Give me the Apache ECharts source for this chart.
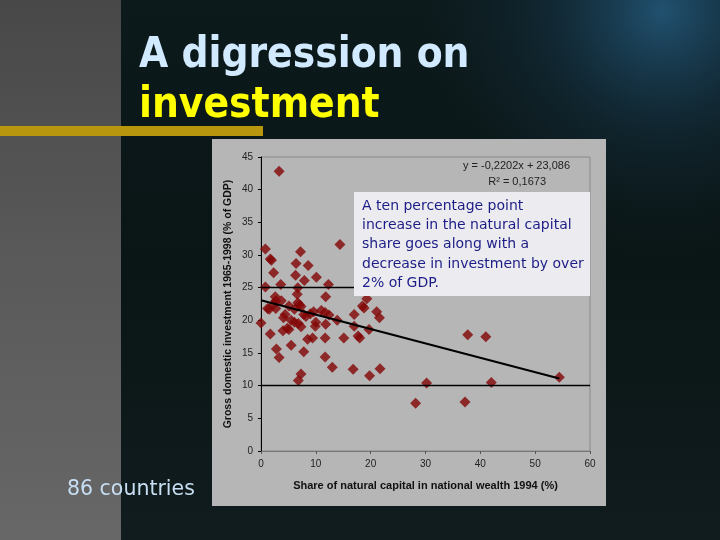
<!DOCTYPE html>
<html><head><meta charset="utf-8">
<script src="https://cdn.jsdelivr.net/npm/echarts@6/dist/echarts.min.js"></script>
<style>html,body{margin:0;padding:0;background:#0b1515;}#c{width:720px;height:540px;}</style>
</head><body><div id="c"></div>
<script>
// Share of natural capital in national wealth 1994 (%)
const naturalShare = [3.3,0.8,1.7,1.9,2.3,0.8,3.6,7.2,6.4,8.6,6.3,7.9,6.7,10.1,14.4,12.3,6.6,11.8,2.6,2.7,3.7,1.2,1.5,2.7,5.1,6.7,7.0,7.3,6.1,7.8,8.2,4.4,4.1,0.0,1.7,4.0,5.1,5.5,6.1,6.8,7.3,5.5,2.8,3.3,7.8,7.3,6.8,8.5,9.4,9.6,10.0,9.9,11.0,11.7,12.4,11.8,11.7,11.7,13.0,13.9,15.1,17.0,17.0,17.7,18.0,16.8,18.5,18.8,19.3,19.7,19.8,21.1,21.6,21.7,28.2,30.2,37.7,41.0,37.2,42.0,54.4,4.8,9.0,2.3];
// Gross domestic investment 1965-1998 (% of GDP)
const investment = [42.8,30.9,29.4,29.2,27.3,25.1,25.5,30.5,28.7,28.4,26.9,26.1,25.0,26.6,31.6,25.5,24.0,23.6,23.6,23.0,23.0,21.8,21.7,21.8,22.2,22.7,22.4,22.1,21.7,20.9,20.6,20.9,20.4,19.6,17.9,18.4,18.6,20.0,19.7,19.5,19.0,16.2,15.6,14.3,15.2,11.8,10.8,17.1,17.3,21.3,19.7,19.1,21.5,21.2,20.8,19.4,17.3,14.4,12.8,20.0,17.3,20.9,19.1,17.6,17.3,12.5,22.2,21.9,23.3,18.6,11.5,21.3,20.4,12.6,7.3,10.4,17.8,17.5,7.5,10.5,11.3,18.8,21.0,22.5];
// Linear trend end points
const trendX = [0, 54.4];
const trendY = [23.086, 11.11];
const refLines = [25, 10];
const titleLine1 = "A digression on";
const titleLine2 = "investment";
const noteLines = ["A ten percentage point","increase in the natural capital","share goes along with a","decrease in investment by over","2% of GDP."];
const equation = "y = -0,2202x + 23,086";
const rsq = "R² = 0,1673";

const chart = echarts.init(document.getElementById('c'));
const pts = naturalShare.map((x,i)=>[x, investment[i]]);
const noteEls = noteLines.map((t,i)=>({type:'text', z:101, left:362, top:199+i*19.3,
  style:{text:t, fill:'#1c1c86', font:'14px "DejaVu Sans"'}}));
chart.setOption({
  animation:false,
  graphic:[
    {type:'rect', z:-100, shape:{x:0,y:0,width:720,height:540},
      style:{fill:new echarts.graphic.LinearGradient(0,0,0,1,[{offset:0,color:'#0c1a1c'},{offset:0.5,color:'#0a1515'},{offset:1,color:'#101c1e'}])}},
    {type:'rect', z:-99.5, shape:{x:0,y:0,width:720,height:540},
      style:{fill:new echarts.graphic.RadialGradient(0.92,0.02,0.45,[{offset:0,color:'rgba(40,100,140,0.75)'},{offset:0.5,color:'rgba(25,60,85,0.35)'},{offset:1,color:'rgba(20,40,50,0)'}])}},
    {type:'rect', z:-99, shape:{x:0,y:0,width:121,height:540},
      style:{fill:new echarts.graphic.LinearGradient(0,0,0,1,[{offset:0,color:'#484849'},{offset:0.5,color:'#5a5a5b'},{offset:1,color:'#676767'}])}},
    {type:'rect', z:-98, shape:{x:0,y:126,width:263,height:10}, style:{fill:'#b8960e'}},
    {type:'text', z:-97, left:139, top:35, style:{text:titleLine1, fill:'#d2eaff', font:'bold 42px "DejaVu Sans Condensed"'}},
    {type:'text', z:-97, left:139, top:85, style:{text:titleLine2, fill:'#ffff00', font:'bold 42px "DejaVu Sans Condensed"'}},
    {type:'text', z:-97, left:67, top:479, style:{text:'86 countries', fill:'#c8def2', font:'20.5px "DejaVu Sans"'}},
    {type:'rect', z:-96, shape:{x:212,y:139,width:394,height:367}, style:{fill:'#b6b6b6'}},
    {type:'text', z:10, right:150, top:160, style:{text:equation, fill:'#222', font:'11px "Liberation Sans"'}},
    {type:'text', z:10, right:174, top:176, style:{text:rsq, fill:'#222', font:'11px "Liberation Sans"'}},
    {type:'rect', z:100, shape:{x:354,y:192,width:236,height:104}, style:{fill:'#ececf0'}},
    ...noteEls
  ],
  grid:{left:261, right:130, top:157, bottom:89, show:true, borderColor:'#888', borderWidth:1, backgroundColor:'transparent'},
  xAxis:{type:'value', min:0, max:60, interval:10,
    name:'Share of natural capital in national wealth 1994 (%)', nameLocation:'middle', nameGap:29,
    nameTextStyle:{color:'#111', fontWeight:'bold', fontSize:11, fontFamily:'Liberation Sans'},
    axisLine:{lineStyle:{color:'#777'}}, axisTick:{show:true, length:3, lineStyle:{color:'#555'}},
    axisLabel:{color:'#222', fontSize:10, fontFamily:'Liberation Sans', margin:8}, splitLine:{show:false}},
  yAxis:{type:'value', min:0, max:45, interval:5,
    name:'Gross domestic investment 1965-1998 (% of GDP)', nameLocation:'middle', nameGap:27,
    nameTextStyle:{color:'#111', fontWeight:'bold', fontSize:10.5, fontFamily:'Liberation Sans'},
    axisLine:{show:true, lineStyle:{color:'#000'}}, axisTick:{show:true, length:3, lineStyle:{color:'#000'}},
    axisLabel:{color:'#222', fontSize:10, fontFamily:'Liberation Sans', margin:8}, splitLine:{show:false}},
  series:[
    {type:'scatter', data:pts, symbol:'diamond', symbolSize:11, itemStyle:{color:'#820505'}, z:3,
      markLine:{silent:true, symbol:'none', label:{show:false}, lineStyle:{color:'#000', width:1.3, type:'solid'},
        data:refLines.map(v=>({yAxis:v}))}},
    {type:'line', data:trendX.map((x,i)=>[x,trendY[i]]), symbol:'none', lineStyle:{color:'#000', width:2}, z:4}
  ]
});
</script></body></html>
